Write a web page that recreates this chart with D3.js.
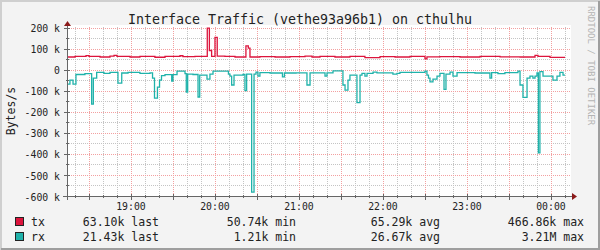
<!DOCTYPE html>
<html>
<head>
<meta charset="utf-8">
<script src="https://cdn.jsdelivr.net/npm/d3@7"></script>
<style>
  body { margin: 0; background: #fff; }
  svg text { font-family: "DejaVu Sans Mono", monospace; }
</style>
</head>
<body>
<div id="chart"></div>
<script>
// traffic in kB/s, times are minutes after 18:00 (step data, value holds until next time)
const txMinutes = [14.3, 20, 27.9, 30, 37.9, 45, 47.9, 50, 59.3, 66.4, 77.1, 84.3, 95, 97.1, 105.7,
  114.5, 116, 117.6, 120, 121.6, 127.1, 134.3, 142.1, 143.8, 145, 152.1, 162.9, 173.6, 184.3, 189.3,
  195, 205.7, 216.4, 227.1, 237.9, 248.6, 259.3, 270, 271.4, 280.7, 295, 309.3, 323.6, 337.9, 348.6,
  350.7, 359.3];
const txValues = [65, 68, 72, 68, 65, 69, 73, 68, 65, 68, 64, 68, 71, 67, 68,
  202, 96, 68, 158, 69, 68, 65, 118, 107, 65, 67, 65, 67, 69, 65,
  68, 65, 68, 62, 67, 65, 68, 56, 66, 67, 65, 68, 66, 65, 73,
  68, 63];

const rxMinutes = [14.3, 16.4, 18.6, 20.7, 27.1, 31.9, 33.1, 35.5, 40.7, 45, 50.7, 53.4, 57.9, 66.4,
  73.6, 75.4, 76.8, 78.9, 80.4, 81.8, 84.3, 89.1, 90, 92.9, 98.6, 99.5, 100.5, 104.3, 107.9, 109.1,
  114.3, 116.4, 118.6, 129.6, 130.7, 131.9, 133.6, 140, 141.4, 142.6, 146.2, 147.9, 149.3, 150.7,
  152.1, 159.3, 168.2, 169.6, 177.9, 185.7, 187.9, 198.6, 200, 204.3, 211.4, 212.9, 215, 216.4,
  221.4, 223.6, 225, 227.1, 228.6, 232.9, 235.7, 247.1, 250, 252.1, 270, 271.4, 272.5, 273.6, 275.7,
  278.6, 280.7, 283.6, 285, 287.9, 290, 292.9, 305.7, 316.4, 317.6, 322.1, 327.1, 336.4, 337.9,
  340, 342.9, 345, 347.1, 348.6, 350, 351, 352.1, 354.3, 361.4, 364.3, 366.4, 368.6];
const rxValues = [64, 45, 64, 18, 14, 159, 35, 8, 13, 8, 59, 11, 8, 13,
  10, 35, 130, 78, 45, 23, 19, 49, 19, 2, 14, 102, 16, 18, 125, 21,
  40, 16, 2, 16, 26, 68, 21, 18, 95, 16, 577, 16, 7, 26,
  9, 11, 29, 11, 10, 68, 10, 26, 10, 1.2, 68, 92, 45, 21,
  152, 21, 13, 26, 13, 7, 10, 16, 13, 8, 2, 21, 35, 53, 40,
  26, 13, 89, 16, 7, 26, 9, 11, 35, 9, 14, 9, 2, 68,
  127, 35, 26, 35, 26, 11, 390, 4, 26, 45, 26, 8, 21];
const dataEnd = 370;

const yTicks = [200, 100, 0, -100, -200, -300, -400, -500, -600];
const yMinor = d3.range(-600, 201, 50);

const seriesNames = ["tx", "rx"];
const seriesColors = ["#dc143c", "#20b2aa"];
const lastValues = ["63.10k", "21.43k"];
const minValues = ["50.74k", "1.21k"];
const avgValues = ["65.29k", "26.67k"];
const maxValues = ["466.86k", "3.21M"];

const W = 600, H = 250;
const base = new Date(2024, 0, 1, 18, 0, 0);
const toDate = m => new Date(base.getTime() + m * 60000);

const svg = d3.select("#chart").append("svg")
  .attr("width", W).attr("height", H);

// background + frame
svg.append("rect").attr("width", W).attr("height", H).attr("fill", "#f3f3f3");
svg.append("path").attr("d", `M1,${H} V1 H${W}`).attr("stroke", "#cfcfcf").attr("stroke-width", 2).attr("fill", "none");
svg.append("path").attr("d", `M1,${H - 1} H${W - 1} V1`).attr("stroke", "#9e9e9e").attr("stroke-width", 2).attr("fill", "none");

const x = d3.scaleTime().domain([toDate(14.3), toDate(374.3)]).range([67, 571]);
const y = d3.scaleLinear().domain([-600, 207.6]).range([197, 27]);
const plotL = x.range()[0], plotR = x.range()[1];
const plotT = y.range()[1], plotB = y.range()[0];

svg.append("rect").attr("x", plotL).attr("y", plotT - 2).attr("width", plotR - plotL).attr("height", plotB - plotT + 2).attr("fill", "#fff");

const grid = svg.append("g").attr("shape-rendering", "crispEdges");

// minor grid
grid.selectAll(".vmin").data(x.ticks(d3.timeMinute.every(10))).join("line")
  .attr("x1", d => Math.round(x(d)) + 0.5).attr("x2", d => Math.round(x(d)) + 0.5)
  .attr("y1", plotT).attr("y2", plotB)
  .attr("stroke", "#c4c4c4").attr("stroke-dasharray", "1,1");
grid.selectAll(".hmin").data(yMinor).join("line")
  .attr("x1", plotL).attr("x2", plotR)
  .attr("y1", d => Math.round(y(d)) - 0.5).attr("y2", d => Math.round(y(d)) - 0.5)
  .attr("stroke", "#c4c4c4").attr("stroke-dasharray", "1,1");

// major grid
grid.selectAll(".vmaj").data(x.ticks(d3.timeMinute.every(30))).join("line")
  .attr("x1", d => Math.round(x(d)) + 0.5).attr("x2", d => Math.round(x(d)) + 0.5)
  .attr("y1", plotT).attr("y2", plotB)
  .attr("stroke", "#f3a0a0").attr("stroke-dasharray", "1,1");
grid.selectAll(".hmaj").data(yTicks).join("line")
  .attr("x1", plotL).attr("x2", plotR)
  .attr("y1", d => Math.round(y(d)) - 0.5).attr("y2", d => Math.round(y(d)) - 0.5)
  .attr("stroke", "#f3a0a0").attr("stroke-dasharray", "1,1");

// series
function steps(mins, vals, sign) {
  const pts = mins.map((m, i) => ({ t: toDate(m), v: sign * vals[i] }));
  pts.push({ t: toDate(dataEnd), v: sign * vals[vals.length - 1] });
  return pts;
}
const line = d3.line()
  .x(d => x(d.t))
  .y(d => y(Math.min(d.v, 207)))
  .curve(d3.curveStepAfter);

svg.append("path").datum(steps(txMinutes, txValues, 1))
  .attr("d", line).attr("fill", "none")
  .attr("stroke", seriesColors[0]).attr("stroke-width", 1.3);
svg.append("path").datum(steps(rxMinutes, rxValues, -1))
  .attr("d", line).attr("fill", "none")
  .attr("stroke", seriesColors[1]).attr("stroke-width", 1.3);

// axes
const axisCol = "#666", arrowCol = "#8b1a1a";
const axes = svg.append("g").attr("shape-rendering", "crispEdges");
axes.append("line").attr("x1", plotL - 4).attr("x2", plotR + 1)
  .attr("y1", Math.round(plotB) - 0.5).attr("y2", Math.round(plotB) - 0.5).attr("stroke", axisCol);
axes.append("line").attr("x1", plotL + 0.5).attr("x2", plotL + 0.5)
  .attr("y1", plotB + 3).attr("y2", plotT - 3).attr("stroke", axisCol);
axes.selectAll(".yt").data(yTicks).join("line")
  .attr("x1", plotL - 3).attr("x2", plotL + 3)
  .attr("y1", d => Math.round(y(d)) - 0.5).attr("y2", d => Math.round(y(d)) - 0.5)
  .attr("stroke", axisCol);
axes.selectAll(".ytm").data(yMinor).join("line")
  .attr("x1", plotL - 1).attr("x2", plotL + 2)
  .attr("y1", d => Math.round(y(d)) - 0.5).attr("y2", d => Math.round(y(d)) - 0.5)
  .attr("stroke", axisCol);
axes.selectAll(".xt").data(x.ticks(d3.timeMinute.every(30))).join("line")
  .attr("x1", d => Math.round(x(d)) + 0.5).attr("x2", d => Math.round(x(d)) + 0.5)
  .attr("y1", plotB - 3).attr("y2", plotB + 3).attr("stroke", axisCol);
axes.selectAll(".xtm").data(x.ticks(d3.timeMinute.every(10))).join("line")
  .attr("x1", d => Math.round(x(d)) + 0.5).attr("x2", d => Math.round(x(d)) + 0.5)
  .attr("y1", plotB - 2).attr("y2", plotB + 1).attr("stroke", axisCol);

// arrows
svg.append("path")
  .attr("d", `M${plotL - 3},${plotT - 1} L${plotL + 4},${plotT - 1} L${plotL + 0.5},${plotT - 6} Z`)
  .attr("fill", arrowCol);
svg.append("path")
  .attr("d", `M${plotR + 1},${plotB - 4} L${plotR + 1},${plotB + 3} L${plotR + 6},${plotB - 0.5} Z`)
  .attr("fill", arrowCol);

// tick labels
svg.selectAll(".ylab").data(yTicks).join("text")
  .attr("x", 60).attr("y", d => y(d) + 3.6)
  .attr("text-anchor", "end").attr("font-size", "9.8px").attr("fill", "#222")
  .text(d => d === 0 ? "0" : d + " k");
svg.selectAll(".xlab").data(x.ticks(d3.timeHour.every(1))).join("text")
  .attr("x", d => x(d)).attr("y", 210)
  .attr("text-anchor", "middle").attr("font-size", "9.8px").attr("fill", "#222")
  .text(d3.timeFormat("%H:%M"));

// title, unit, watermark
svg.append("text").attr("x", 300).attr("y", 24).attr("text-anchor", "middle")
  .attr("font-size", "13.3px").attr("fill", "#222")
  .text("Interface Traffic (vethe93a96b1) on cthulhu");
svg.append("text").attr("transform", "translate(15,111) rotate(-90)")
  .attr("text-anchor", "middle").attr("font-size", "11.5px").attr("fill", "#222")
  .text("Bytes/s");
svg.append("text").attr("transform", "translate(588,6) rotate(90)")
  .attr("font-size", "9px").attr("fill", "#b4b4b4")
  .text("RRDTOOL / TOBI OETIKER");

// legend
const rowY = [226, 241];
const leg = svg.selectAll(".leg").data(seriesNames).join("g")
  .attr("transform", (d, i) => `translate(0,${rowY[i]})`);
leg.append("rect").attr("x", 15.5).attr("y", -8.5).attr("width", 8).attr("height", 8)
  .attr("fill", (d, i) => seriesColors[i]).attr("stroke", "#222").attr("stroke-width", 1);
leg.append("text").attr("x", 31).attr("font-size", "11.5px").attr("fill", "#222").text(d => d);
const cols = [[159, lastValues, "last"], [296, minValues, "min"], [440, avgValues, "avg"], [584, maxValues, "max"]];
cols.forEach(([cx, vals, word]) => {
  leg.append("text").attr("x", cx).attr("text-anchor", "end")
    .attr("font-size", "11.5px").attr("fill", "#222")
    .text((d, i) => vals[i] + " " + word);
});
</script>
</body>
</html>
